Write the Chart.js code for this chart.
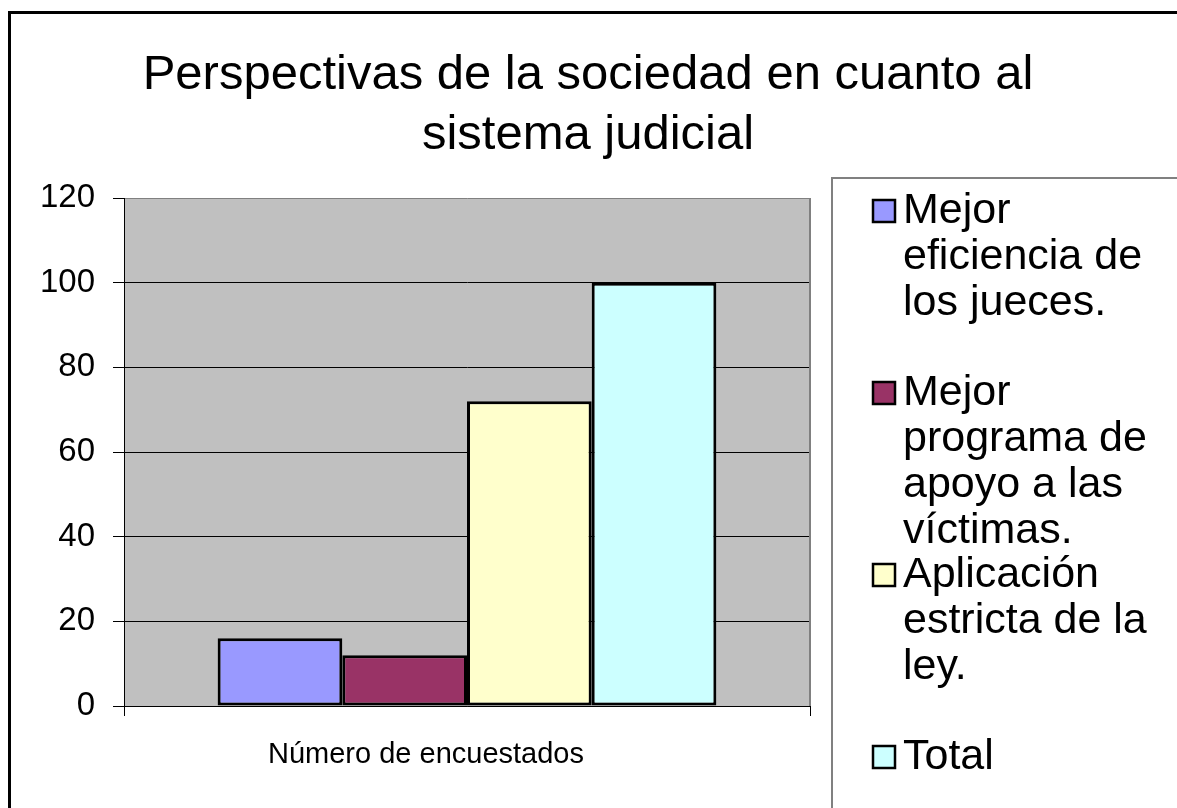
<html>

<head>
  <script src="https://cdn.jsdelivr.net/npm/chart.js@4.4.0/dist/chart.umd.min.js"></script>
  <style>
    body { margin: 0; background: #fff; }
  </style>
</head>

<body>
  <canvas id="myChart" width="1177" height="808"></canvas>
</body>

<script>
  const titleLines = ['Perspectivas de la sociedad en cuanto al', 'sistema judicial'];
  const categories = ['Número de encuestados'];
  const seriesNames = [
    'Mejor eficiencia de los jueces.',
    'Mejor programa de apoyo a las víctimas.',
    'Aplicación estricta de la ley.',
    'Total'
  ];
  const seriesValues = [16, 12, 72, 100];
  const yTicks = [0, 20, 40, 60, 80, 100, 120];

  const seriesColors = ['#9999FF', '#993366', '#FFFFCC', '#CCFFFF'];
  const FONT = "'Liberation Sans', Arial, sans-serif";

  // plot background, outer frame, title and wrapped legend drawn by hand
  const frame = {
    id: 'frame',
    beforeDraw(chart) {
      const { ctx, chartArea: a } = chart;
      ctx.save();
      ctx.fillStyle = '#C0C0C0';
      ctx.fillRect(a.left, a.top, a.right - a.left, a.bottom - a.top);
      ctx.restore();
    },
    beforeDatasetsDraw(chart) {
      const { ctx, chartArea: a } = chart;
      ctx.save();
      ctx.strokeStyle = '#808080';
      ctx.lineWidth = 2;
      ctx.beginPath();
      ctx.moveTo(a.right, a.top);
      ctx.lineTo(a.right, a.bottom);
      ctx.stroke();
      ctx.restore();
    },
    afterDraw(chart) {
      const ctx = chart.ctx;
      ctx.save();
      // outer border
      ctx.strokeStyle = '#000';
      ctx.lineWidth = 3;
      ctx.strokeRect(9.5, 12.5, 1300, 1000);

      // title, centred on the whole picture
      ctx.fillStyle = '#000';
      ctx.font = '49px ' + FONT;
      ctx.textAlign = 'center';
      ctx.textBaseline = 'middle';
      titleLines.forEach((t, k) => ctx.fillText(t, 588, 75 + k * 60));

      // legend box
      ctx.textAlign = 'left';
      ctx.strokeStyle = '#808080';
      ctx.lineWidth = 2;
      ctx.strokeRect(832, 178, 500, 800);

      ctx.font = '43px ' + FONT;
      const maxW = 270;
      chart.data.datasets.forEach((ds, i) => {
        const words = ds.label.split(' ');
        const lines = [];
        let cur = '';
        words.forEach(w => {
          const test = cur ? cur + ' ' + w : w;
          if (ctx.measureText(test).width > maxW && cur) {
            lines.push(cur);
            cur = w;
          } else {
            cur = test;
          }
        });
        lines.push(cur);
        const y0 = 211 + i * 182;
        ctx.fillStyle = ds.backgroundColor;
        ctx.fillRect(873, y0 - 11, 22, 22);
        ctx.strokeStyle = '#000';
        ctx.lineWidth = 2.5;
        ctx.strokeRect(873, y0 - 11, 22, 22);
        ctx.fillStyle = '#000';
        lines.forEach((ln, k) => ctx.fillText(ln, 903, y0 + k * 46));
      });
      ctx.restore();
    }
  };

  const ctx = document.getElementById('myChart').getContext('2d');
  const chart = new Chart(ctx, {
    type: 'bar',
    data: {
      labels: categories,
      datasets: seriesNames.map((name, i) => ({
        label: name,
        data: [seriesValues[i]],
        backgroundColor: seriesColors[i],
        borderColor: '#000',
        borderWidth: 3,
        borderSkipped: false,
        categoryPercentage: 0.727,
        barPercentage: 1
      }))
    },
    options: {
      responsive: false,
      animation: false,
      layout: { padding: { left: 0, right: 367, top: 198, bottom: 0 } },
      plugins: {
        legend: { display: false },
        tooltip: { enabled: false },
        title: { display: false }
      },
      scales: {
        x: {
          grid: { display: true, drawOnChartArea: false, color: '#000', tickLength: 10 },
          border: { display: true, color: '#000', width: 1 },
          ticks: { color: '#000', font: { family: FONT, size: 29 }, padding: 22, labelOffset: -41 },
          afterFit(scale) { scale.height = 102; }
        },
        y: {
          min: 0,
          max: 120,
          afterBuildTicks(scale) { scale.ticks = yTicks.map(v => ({ value: v })); },
          grid: {
            color: c => (c.tick && c.tick.value === 120) ? '#808080' : '#000',
            tickColor: '#000',
            tickLength: 11,
            lineWidth: 1
          },
          border: { display: true, color: '#000', width: 1 },
          ticks: { color: '#000', font: { family: FONT, size: 33 }, padding: 18 },
          afterFit(scale) { scale.width = 124; }
        }
      }
    },
    plugins: [frame]
  });
</script>

</html>
